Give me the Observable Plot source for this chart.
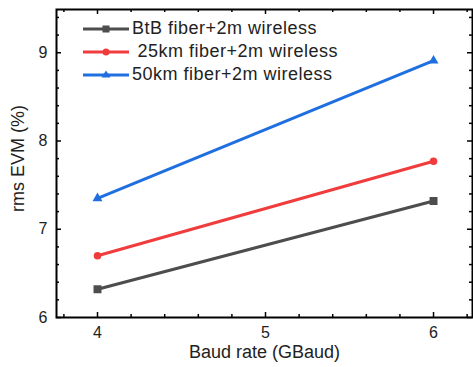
<!DOCTYPE html>
<html><head><meta charset="utf-8">
<script src="https://cdn.jsdelivr.net/npm/d3@7"></script>
<script src="https://cdn.jsdelivr.net/npm/@observablehq/plot@0.6"></script>
<style>
body{margin:0;background:#fff;}
#wrap{position:relative;width:473px;height:367px;font-family:"Liberation Sans",Arial,sans-serif;}
#legend{position:absolute;left:83px;top:17px;}
.row{display:flex;align-items:center;height:23px;font-size:18px;letter-spacing:0.5px;white-space:pre;color:#222;}
.row svg{display:block;}
.row span{margin-left:3px;}
</style></head><body><div id="wrap"><div id="legend"></div></div>
<script>
const baudRates = [4, 6];
const seriesNames = ["BtB fiber+2m wireless", " 25km fiber+2m wireless", "50km fiber+2m wireless"];
const btbEVM = [6.32, 7.32];
const km25EVM = [6.70, 7.77];
const km50EVM = [7.35, 8.91];
const seriesColors = ["#4d4d4d", "#f03c3c", "#1f6fe0"];
const seriesSymbols = ["square", "circle", "triangle"];
const xTicks = [4, 5, 6];
const xMinorTicks = [3.8, 4.2, 4.4, 4.6, 4.8, 5.2, 5.4, 5.6, 5.8, 6.2];
const yTicks = [6, 7, 8, 9];
const yMinorTicks = [6.2, 6.4, 6.6, 6.8, 7.2, 7.4, 7.6, 7.8, 8.2, 8.4, 8.6, 8.8, 9.2, 9.4];
const xLabel = "Baud rate (GBaud)";
const yLabel = "rms EVM (%)";

const allValues = [btbEVM, km25EVM, km50EVM];
const data = [];
seriesNames.forEach((name, i) => baudRates.forEach((b, j) => data.push({series: name, baud: b, evm: allValues[i][j]})));

const W = 473, H = 367, ML = 56, MR = 1, MT = 9, MB = 50;
const FW = W - ML - MR, FH = H - MT - MB;
const font = "Liberation Sans, Arial, sans-serif";
const dotSizes = [4.5, 3.8, 3.7];
const tk = {stroke: "#000", strokeWidth: 1.5};
const xt = (ticks, len, side) => Plot.tickX(ticks, {x: d => d, ...tk, ...(side === "bottom" ? {insetTop: FH - len} : {insetBottom: FH - len})});
const yt = (ticks, len, side) => Plot.tickY(ticks, {y: d => d, ...tk, ...(side === "left" ? {insetRight: FW - len} : {insetLeft: FW - len})});

const plot = Plot.plot({
  width: W, height: H,
  marginLeft: ML, marginRight: MR, marginTop: MT, marginBottom: MB,
  style: {fontFamily: font, fontSize: "16px", color: "#222", background: "#fff"},
  x: {domain: [3.756, 6.232]},
  y: {domain: [6, 9.49]},
  color: {domain: seriesNames, range: seriesColors},
  symbol: {domain: seriesNames, range: seriesSymbols},
  marks: [
    Plot.axisX(xTicks, {anchor: "bottom", tickSize: 0, tickPadding: 9, fontSize: 16, label: null, tickFormat: d3.format("d")}),
    Plot.axisY(yTicks, {anchor: "left", tickSize: 0, tickPadding: 9, fontSize: 16, label: null, tickFormat: d3.format("d")}),
    xt(xTicks, 5, "bottom"), xt(xMinorTicks, 3, "bottom"),
    xt(xTicks, 5, "top"), xt(xMinorTicks, 3, "top"),
    yt(yTicks, 5, "left"), yt(yMinorTicks, 3, "left"),
    yt(yTicks, 5, "right"), yt(yMinorTicks, 3, "right"),
    Plot.frame({stroke: "#000", strokeWidth: 2}),
    Plot.text([xLabel], {frameAnchor: "bottom", dy: 40, fontSize: 18, text: d => d, fill: "#222", style: "letter-spacing:0.5px"}),
    Plot.text([yLabel], {frameAnchor: "left", textAnchor: "middle", dx: -38, dy: -5, rotate: -90, fontSize: 18, text: d => d, fill: "#222", style: "letter-spacing:0.5px"}),
    Plot.line(data, {x: "baud", y: "evm", z: "series", stroke: "series", strokeWidth: 3}),
    ...seriesNames.map((name, i) => Plot.dot(data.filter(d => d.series === name), {x: "baud", y: "evm", symbol: "series", fill: "series", r: dotSizes[i]}))
  ]
});
const wrap = document.getElementById("wrap");
wrap.insertBefore(plot, wrap.firstChild);

const legend = document.getElementById("legend");
const sym = (s, c) => {
  if (s === "square") return `<rect x="19.5" y="2.5" width="7" height="7" fill="${c}"/>`;
  if (s === "circle") return `<circle cx="23" cy="6" r="3.5" fill="${c}"/>`;
  return `<path d="M23,1.5 L27.5,8.5 L18.5,8.5 Z" fill="${c}"/>`;
};
seriesNames.forEach((name, i) => {
  const row = document.createElement("div");
  row.className = "row";
  row.innerHTML = `<svg width="46" height="12"><line x1="0" x2="46" y1="6" y2="6" stroke="${seriesColors[i]}" stroke-width="3"/>${sym(seriesSymbols[i], seriesColors[i])}</svg><span></span>`;
  row.querySelector("span").textContent = name;
  legend.appendChild(row);
});
</script>
</body></html>
